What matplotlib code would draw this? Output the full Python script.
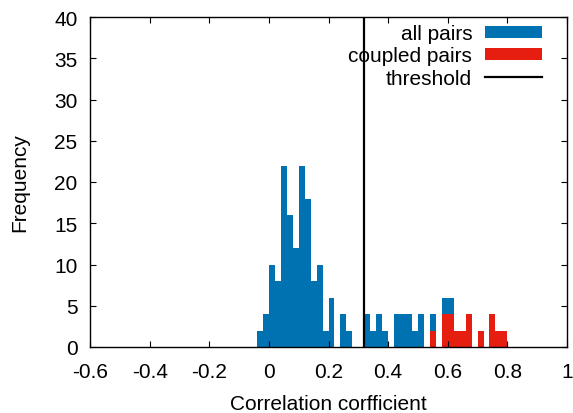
import numpy as np
import matplotlib
matplotlib.use("Agg")
import matplotlib.pyplot as plt

# histogram bins (left edges), width 0.02
bin_left = np.round(np.arange(-0.04, 0.80, 0.02), 2)
all_pairs = [2, 4, 10, 8, 22, 16, 12, 22, 18, 8, 10, 2, 6, 0, 4, 2, 0, 0,
             4, 2, 4, 2, 0, 4, 4, 4, 2, 4, 0, 4, 0, 6, 6, 2, 2, 4, 0, 2,
             0, 4, 2, 2]
coupled_left = [0.54, 0.58, 0.60, 0.62, 0.64, 0.66, 0.70, 0.74, 0.76, 0.78]
coupled_pairs = [2, 4, 4, 2, 2, 4, 2, 4, 2, 2]
threshold = 0.32

xticks = [-0.6, -0.4, -0.2, 0, 0.2, 0.4, 0.6, 0.8, 1]
xtick_labels = ["-0.6", "-0.4", "-0.2", "0", "0.2", "0.4", "0.6", "0.8", "1"]
yticks = np.arange(0, 45, 5)

plt.rcParams["font.family"] = ["Liberation Sans", "DejaVu Sans"]

fig = plt.figure(figsize=(5.73, 4.14), dpi=100)
ax = fig.add_axes([90/573, 1-348/414, (567-90)/573, (348-18)/414])

blue = "#0072b2"
red = "#e51e10"
b1 = ax.bar(bin_left, all_pairs, width=0.02, align="edge", color=blue,
            linewidth=0, label="all pairs")
b2 = ax.bar(coupled_left, coupled_pairs, width=0.02, align="edge", color=red,
            linewidth=0, label="coupled pairs")
ln = ax.axvline(threshold, color="black", linewidth=1.6, label="threshold")

ax.set_xlim(-0.6, 1)
ax.set_ylim(0, 40)
ax.set_xticks(xticks)
ax.set_xticklabels(xtick_labels)
ax.set_yticks(yticks)
ax.tick_params(direction="in", top=True, right=True, length=4,
               labelsize=15)
ax.tick_params(axis="x", pad=11)
ax.tick_params(axis="y", pad=9)
for s in ax.spines.values():
    s.set_linewidth(1.0)

ax.set_xlabel("Correlation corfficient", fontsize=15, labelpad=9)
ax.set_ylabel("Frequency", fontsize=15, labelpad=18)

ax.legend([b1, b2, ln], ["all pairs", "coupled pairs", "threshold"],
          loc="upper right", frameon=False, markerfirst=False,
          fontsize=15, handlelength=2.75, handleheight=0.5,
          labelspacing=0.16, borderaxespad=0.0, handletextpad=0.6,
          borderpad=0.0, bbox_to_anchor=(1 - 25/477, 1 - 7/330))

fig.savefig("out.png", dpi=100)
